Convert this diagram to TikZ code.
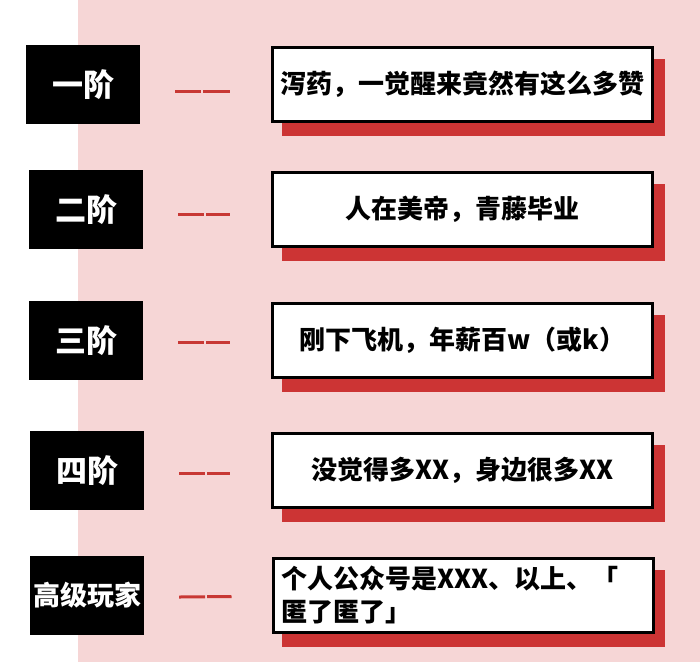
\documentclass[tikz,border=0pt]{standalone}
\usepackage{fontspec}
\setmainfont{Noto Sans CJK SC}
\usepackage{tikz}
\usetikzlibrary{positioning,calc}
\definecolor{bgpink}{RGB}{246,214,214}
\definecolor{shadowred}{RGB}{204,52,52}
\definecolor{dashred}{RGB}{200,56,52}

\begin{document}
\begin{tikzpicture}[
    x=1pt, y=-1pt,
    level box/.style={fill=black, text=white, minimum width=114pt, minimum height=79pt, inner sep=0pt, font=\fontsize{31}{31}\selectfont\bfseries},
    quote box/.style={draw=black, line width=3pt, fill=white, minimum width=380pt, minimum height=74pt, text width=364pt, inner xsep=8pt, inner ysep=0pt, font=\fontsize{26}{33}\selectfont\bfseries},
    shadow box/.style={fill=shadowred, minimum width=383pt, minimum height=77pt, inner sep=0pt},
    level dash/.style={dashred, line width=3pt, dash pattern=on 26pt off 2pt on 100pt off 0pt}
]
    \useasboundingbox (0,0) rectangle (700,662);
    \fill[bgpink] (78,0) rectangle (700,662);

    \foreach \i/\y/\bx/\dy/\lab/\txt in {
        1/84.5/83/6.5/一阶/泻药，一觉醒来竟然有这么多赞,
        2/209.5/86/4.5/二阶/人在美帝，青藤毕业,
        3/340.5/86/2/三阶/刚下飞机，年薪百w（或k）,
        4/470.5/87/2.5/四阶/没觉得多XX，身边很多XX}
    {
      \node[level box] (lvl-\i) at (\bx, \y) {\lab};
      \node[shadow box] (sh-\i) at (473.5, \y+13) {};
      \node[quote box, align=center] (txt-\i) at (462.5, \y) {\txt};
      \draw[level dash] ($(lvl-\i.east)+(35,\dy)$) -- ($(txt-\i.west)+(-41,\dy)$);
    }

    \node[level box, font=\fontsize{27}{27}\selectfont\bfseries] (lvl-5) at (87, 595.5) {高级玩家};
    \node[shadow box] (sh-5) at (473.5, 608) {};
    \node[quote box, align=left] (txt-5) at (463, 595) {个人公众号是XXX、以上、「\\匿了匿了」};
    \draw[level dash] ($(lvl-5.east)+(35,1.5)$) -- ($(txt-5.west)+(-40,1.5)$);
\end{tikzpicture}
\end{document}
